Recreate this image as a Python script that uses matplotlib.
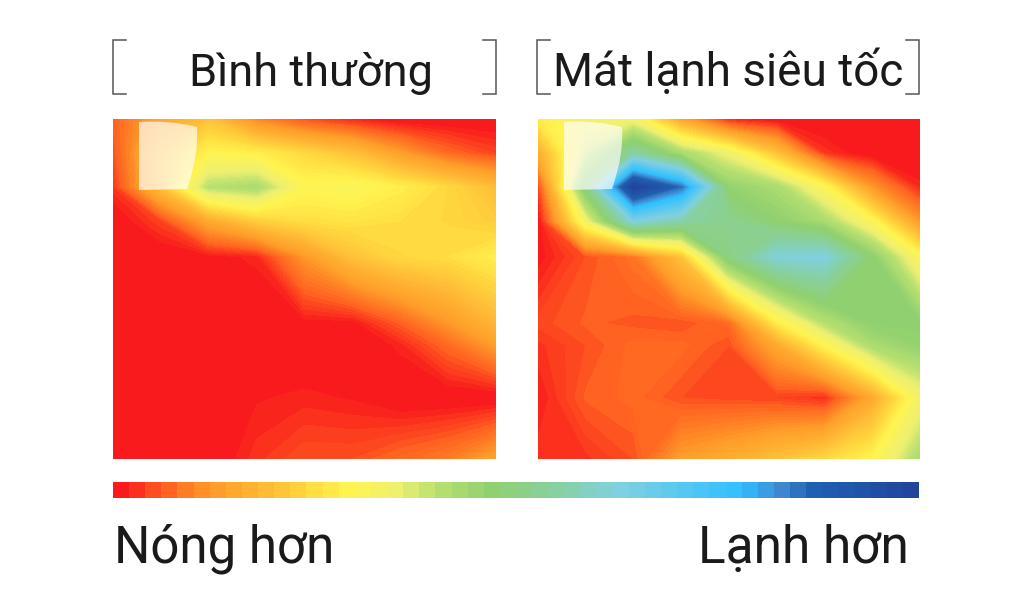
#!python3
import numpy as np
import matplotlib
matplotlib.use('Agg')
import matplotlib.pyplot as plt
from matplotlib.colors import LinearSegmentedColormap
from matplotlib.patches import PathPatch
from matplotlib.path import Path

plt.rcParams['font.family'] = ['Roboto', 'DejaVu Sans']

# 0 = hottest, 1 = coldest
titles = ['Bình thường', 'Mát lạnh siêu tốc']
cold_label = 'Lạnh hơn'
hot_label = 'Nóng hơn'
rows = [0, .1, .2, .3, .405, .6, .665, .82, 1.0]
columns = [0, 0.125, 0.25, 0.375, 0.5, 0.625, 0.75, 0.875, 1.0]

normal = [
    [.06, .15, .20, .10, .05, .02, .00, .00, .00],
    [.05, .20, .29, .28, .24, .20, .13, .07, .04],
    [.03, .20, .40, .42, .30, .31, .28, .24, .19],
    [.00, .04, .15, .22, .25, .26, .25, .24, .22],
    [.00, .00, .01, .02, .12, .20, .24, .25, .28],
    [.00, .00, .00, .00, .01, .01, .06, .12, .18],
    [.00, .00, .00, .00, .00, .00, .02, .07, .13],
    [.00, .00, .00, .015, .02, .015, .00, .00, .00],
    [.00, .00, .00, .03, .05, .05, .07, .09, .14],
]
fast_cool = [
    [.27, .33, .33, .14, .02, .00, .00, .00, .00],
    [.16, .38, .55, .42, .34, .20, .03, .00, .00],
    [.04, .50, 1.0, .85, .46, .42, .30, .12, .02],
    [.00, .33, .63, .56, .52, .47, .42, .30, .12],
    [.01, .05, .08, .20, .50, .62, .63, .47, .30],
    [.045, .06, .055, .05, .07, .27, .40, .47, .47],
    [.03, .05, .07, .07, .05, .15, .29, .42, .46],
    [.015, .06, .07, .05, .045, .04, .025, .15, .33],
    [.03, .03, .05, .13, .16, .20, .24, .29, .42],
]

color_stops = [(0, '#f81a1c'), (.012, '#f81a1c'), (.055, '#ff5a20'), (.12, '#ff9a28'), (.2, '#ffc038'),
               (.246, '#ffdc40'), (.29, '#fff44f'), (.35, '#f0f070'), (.40, '#b8e070'),
               (.47, '#90d070'), (.55, '#88d0a0'), (.63, '#80d0e0'), (.78, '#30c0ff'),
               (.83, '#3f88d0'), (.87, '#2060b0'), (1, '#21439c')]
cmap = LinearSegmentedColormap.from_list('heat', color_stops, N=256)
n_cells = 50
levels = np.linspace(0, 1, 121)

W, H = 1024, 610
fig = plt.figure(figsize=(W / 100, H / 100), dpi=100)


def px_axes(x0, y0, x1, y1):
    return fig.add_axes([x0 / W, 1 - y1 / H, (x1 - x0) / W, (y1 - y0) / H])


def wind_patch(ax, left, top):
    # translucent outlet shape over the map
    verts = [(left, top + 2), (left + 30, top), (left + 58, top + 7),
             (left + 60, top + 35), (left + 48, top + 69), (left, top + 70), (left, top + 2)]
    codes = [Path.MOVETO, Path.CURVE3, Path.CURVE3, Path.CURVE3, Path.CURVE3, Path.LINETO, Path.CLOSEPOLY]
    ax.add_patch(PathPatch(Path(verts, codes), facecolor='white', edgecolor='none', alpha=.68))


panels = [(113, 496, normal), (538, 920, fast_cool)]
for x0, x1, values in panels:
    ax = px_axes(x0, 119, x1, 459)
    ax.contourf(columns, rows, np.array(values), levels=levels, cmap=cmap, vmin=0, vmax=1, extend='both')
    ax.set_xlim(0, 1)
    ax.set_ylim(1, 0)
    ax.axis('off')
    # patch in pixel units of the panel
    over = px_axes(x0, 119, x1, 459)
    over.set_xlim(x0, x1)
    over.set_ylim(459, 119)
    over.axis('off')
    wind_patch(over, x0 + 26, 120)

bar = px_axes(113, 482, 919, 498)
bar.pcolormesh(np.linspace(0, 1, n_cells + 1), [0, 1],
               (np.arange(n_cells)[None, :] + .5) / n_cells, cmap=cmap, vmin=0, vmax=1)
bar.axis('off')

# overlay for text and brackets, in pixels
top = fig.add_axes([0, 0, 1, 1])
top.set_xlim(0, W)
top.set_ylim(H, 0)
top.axis('off')
top.patch.set_alpha(0)

for (x0, x1), title, cx, fs in zip([(113, 496), (537, 919)], titles, [311, 728], [32.5, 33]):
    top.plot([x0 + 13, x0, x0, x0 + 13], [40, 40, 94, 94], color='#555555', lw=1.1, solid_joinstyle='miter')
    top.plot([x1 - 13, x1, x1, x1 - 13], [40, 40, 94, 94], color='#555555', lw=1.1, solid_joinstyle='miter')
    top.text(cx, 86, title, ha='center', va='baseline', fontsize=fs, color='#1a1a1a')

top.text(114, 563, hot_label, ha='left', va='baseline', fontsize=36.7, color='#1a1a1a')
top.text(909, 563, cold_label, ha='right', va='baseline', fontsize=37, color='#1a1a1a')

plt.savefig('out.png', dpi=100)
